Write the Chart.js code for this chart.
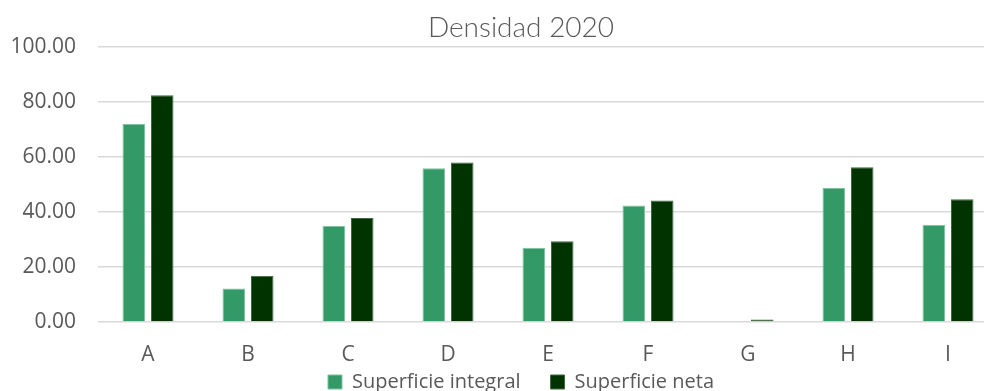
<!DOCTYPE html>
<html>
<head>
<meta charset="utf-8">
<script src="https://cdn.jsdelivr.net/npm/chart.js@4"></script>
<style>
  html, body { margin: 0; padding: 0; background: #fff; overflow: hidden; }
  #wrap { width: 1000px; height: 402px; }
</style>
</head>
<body>
<div id="wrap"><canvas id="densidadChart"></canvas></div>
<script>
const categories = ["A", "B", "C", "D", "E", "F", "G", "H", "I"];
const superficieIntegral = [71.9, 12.2, 34.9, 55.8, 27.0, 42.3, 0, 48.7, 35.3];
const superficieNeta = [82.3, 16.8, 37.8, 57.9, 29.3, 44.1, 0.9, 56.2, 44.6];
const yTicks = [0, 20, 40, 60, 80, 100];

const gray = "#595959";
const axisFont = { family: "Open Sans", size: 21 };

// let the tick labels spill past their narrow axis boxes
const widenLabelArea = {
    id: "widenLabelArea",
    afterLayout(chart) {
        chart.scales.y.left = 0;
        chart.scales.x.bottom = chart.height;
    }
};

function drawChart() {
    const ctx = document.getElementById("densidadChart").getContext("2d");
    new Chart(ctx, {
        type: "bar",
        data: {
            labels: categories,
            datasets: [
                {
                    label: "Superficie integral",
                    data: superficieIntegral,
                    backgroundColor: "#339966",
                    borderColor: "#7fc2a0",
                    borderWidth: 1,
                    categoryPercentage: 0.57,
                    barPercentage: 0.79
                },
                {
                    label: "Superficie neta",
                    data: superficieNeta,
                    backgroundColor: "#003300",
                    borderColor: "#3d6a3d",
                    borderWidth: 1,
                    categoryPercentage: 0.57,
                    barPercentage: 0.79
                }
            ]
        },
        plugins: [widenLabelArea],
        options: {
            responsive: true,
            maintainAspectRatio: false,
            animation: false,
            layout: {
                padding: { left: 44, right: 2, top: 11, bottom: 0 }
            },
            plugins: {
                title: {
                    display: true,
                    text: "Densidad 2020",
                    color: gray,
                    font: { family: "Lato", size: 28, weight: 300 },
                    padding: { top: 0, bottom: 2 }
                },
                legend: {
                    position: "bottom",
                    labels: {
                        color: gray,
                        font: { family: "Open Sans", size: 20 },
                        boxWidth: 14,
                        boxHeight: 14,
                        padding: 30
                    }
                },
                tooltip: { enabled: false }
            },
            scales: {
                x: {
                    grid: { display: false },
                    border: { display: false },
                    afterFit: axis => { axis.height = 20; },
                    ticks: {
                        color: gray,
                        font: axisFont,
                        padding: 12
                    }
                },
                y: {
                    min: 0,
                    max: 100,
                    afterBuildTicks: axis => { axis.ticks = yTicks.map(v => ({ value: v })); },
                    afterFit: axis => { axis.width = 54; },
                    grid: { color: "#d9d9d9", lineWidth: 1.5, drawTicks: false },
                    border: { display: false },
                    ticks: {
                        color: gray,
                        font: axisFont,
                        padding: 22,
                        callback: v => Number(v).toFixed(2)
                    }
                }
            }
        }
    });
}

Promise.all([
    document.fonts.load("21px 'Open Sans'"),
    document.fonts.load("300 28px Lato")
]).then(drawChart, drawChart);
</script>
</body>
</html>
